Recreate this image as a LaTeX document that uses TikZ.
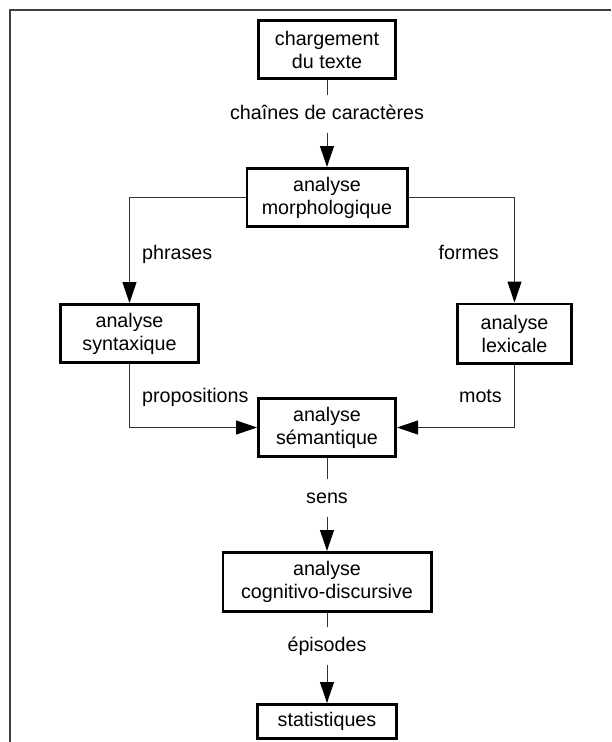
\documentclass[tikz,border=0pt]{standalone}
\usepackage{fontspec}
\setmainfont{Liberation Sans}
\usetikzlibrary{arrows.meta}
\begin{document}
\begin{tikzpicture}[x=1pt,y=-1pt,
  txt/.style={font=\fontsize{19.7}{23}\selectfont},
  box/.style={txt, draw=black, line width=2.6pt, align=center, inner sep=0pt},
  lab/.style={txt, inner sep=0pt, text height=14pt, text depth=4pt, minimum height=38pt},
  slab/.style={txt, inner sep=0pt},
  conn/.style={draw=black!80, line width=1pt},
  arr/.style={conn, -{Triangle[length=21pt,width=14pt,color=black]}},
  frame/.style={draw=black!75, line width=1.5pt}]
\useasboundingbox (0,0) rectangle (611,742);
\draw[frame] (611,10) -- (10,10) -- (10,742);
% boxes
\node[box, minimum width=137.4pt, minimum height=58.4pt] (charg) at (327,49.5) {chargement\\du texte};
\node[box, minimum width=160.4pt, minimum height=58.4pt] (morph) at (327,197.5) {analyse\\morphologique};
\node[box, minimum width=138.4pt, minimum height=58.4pt] (synt) at (129.5,333.5) {analyse\\syntaxique};
\node[box, minimum width=114.4pt, minimum height=59.4pt] (lex) at (514.5,333.5) {analyse\\lexicale};
\node[box, minimum width=137.4pt, minimum height=58.4pt] (sem) at (327,427.5) {analyse\\sémantique};
\node[box, minimum width=208.4pt, minimum height=59.4pt] (cog) at (327,582) {analyse\\cognitivo-discursive};
\node[box, minimum width=139.4pt, minimum height=34.4pt] (stat) at (327,721.5) {statistiques};
% labels
\node[lab] (l1) at (327,114) {chaînes de caractères};
\node[lab] (l2) at (327,498) {sens};
\node[lab] (l3) at (327,646) {épisodes};
\node[slab, anchor=base west] (lphr) at (142,259) {phrases};
\node[slab, anchor=base east] (lfor) at (499,259) {formes};
\node[slab, anchor=base west] (lprop) at (142,402) {propositions};
\node[slab, anchor=base east] (lmots) at (502,402) {mots};
% connectors
\draw[conn] (charg.south) -- (l1.north);
\draw[arr] (l1.south) -- (morph.north);
\draw[arr] (morph.west) -| (synt.north);
\draw[arr] (morph.east) -| (lex.north);
\draw[arr] (synt.south) |- (sem.west);
\draw[arr] (lex.south) |- (sem.east);
\draw[conn] (sem.south) -- (l2.north);
\draw[arr] (l2.south) -- (cog.north);
\draw[conn] (cog.south) -- (l3.north);
\draw[arr] (l3.south) -- (stat.north);
\end{tikzpicture}
\end{document}
